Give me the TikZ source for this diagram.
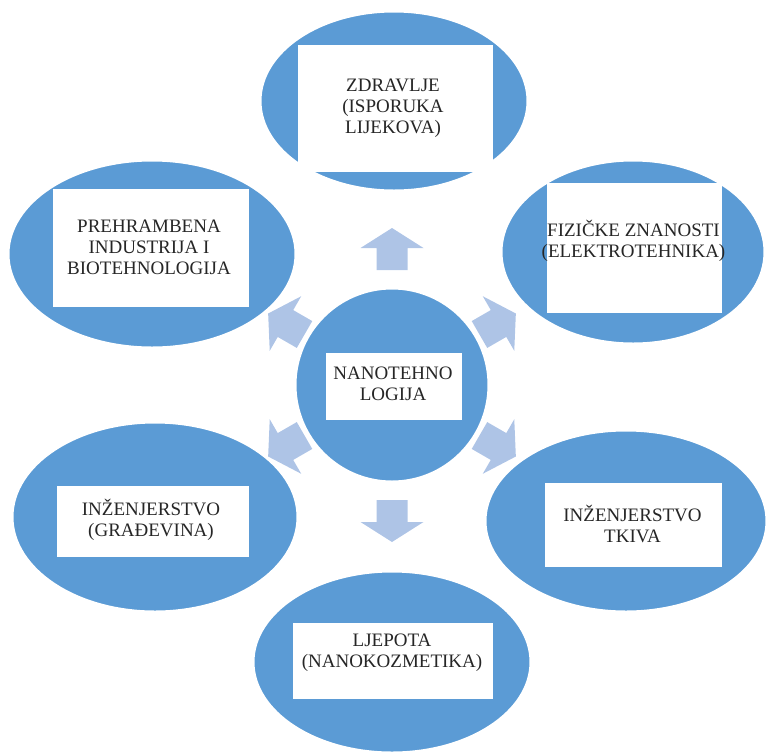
\documentclass[tikz,border=0pt]{standalone}
\usepackage{fontspec}
\setmainfont{Liberation Serif}
\usetikzlibrary{shapes.geometric}

\definecolor{ovalblue}{RGB}{91,155,213}
\definecolor{arrowblue}{RGB}{174,196,230}

\begin{document}
\begin{tikzpicture}[x=1pt, y=-1pt,
    oval/.style={ellipse, fill=ovalblue, draw=white, line width=3pt, inner sep=0pt},
    card/.style={rectangle, fill=white, inner sep=0pt},
    card text/.style={align=center, inner sep=0pt, text=black!85,
        font=\fontsize{19}{21}\selectfont}]

    \useasboundingbox (0,0) rectangle (766,753);

    % Arrows
    \foreach \a/\d in {90/136, 30/122, -30/122, -90/136, 210/122, 150/122}
    {
    	\fill[arrowblue, shift={(392,385)}, rotate=\a]
    		({\d-21},-15.5) -- ({\d+1},-15.5) -- ({\d+1},-31.5) -- ({\d+21},0)
    		-- ({\d+1},31.5) -- ({\d+1},15.5) -- ({\d-21},15.5) -- cycle;
    }

    % Ovals
    \node[oval, minimum width=268pt, minimum height=180pt] (Zdravlje) at (394,101) {};
    \node[oval, minimum width=264pt, minimum height=184pt] (Fizika) at (633,252) {};
    \node[oval, minimum width=282pt, minimum height=182pt] (Tkivo) at (626,521) {};
    \node[oval, minimum width=278pt, minimum height=182pt] (Ljepota) at (392,662) {};
    \node[oval, minimum width=286pt, minimum height=190pt] (Gradevina) at (155,517) {};
    \node[oval, minimum width=288pt, minimum height=188pt] (Prehrana) at (152,254) {};
    \node[oval, circle, minimum size=194pt] (Nano) at (392,385) {};

    % White cards
    \node[card, minimum width=195pt, minimum height=127pt] (Zdravlje-card) at (395.5,108.5) {};
    \node[card, minimum width=175pt, minimum height=130pt] (Fizika-card) at (634.5,248) {};
    \node[card, minimum width=177pt, minimum height=84pt] (Tkivo-card) at (633.5,525) {};
    \node[card, minimum width=200pt, minimum height=76pt] (Ljepota-card) at (393,661) {};
    \node[card, minimum width=192pt, minimum height=71pt] (Gradevina-card) at (153,521.5) {};
    \node[card, minimum width=196pt, minimum height=118pt] (Prehrana-card) at (151,248) {};
    \node[card, minimum width=136pt, minimum height=67pt] (Nano-card) at (394,386.5) {};

    % Texts
    \node[card text] (Zdravlje-text) at (393,108) {ZDRAVLJE\\(ISPORUKA\\LIJEKOVA)};
    \node[card text] (Fizika-text) at (633.5,241) {FIZIČKE ZNANOSTI\\(ELEKTROTEHNIKA)};
    \node[card text] (Tkivo-text) at (632.5,524) {INŽENJERSTVO\\TKIVA};
    \node[card text] (Ljepota-text) at (392,653) {LJEPOTA\\(NANOKOZMETIKA)};
    \node[card text] (Gradevina-text) at (151,520) {INŽENJERSTVO\\(GRAĐEVINA)};
    \node[card text] (Prehrana-text) at (149,247) {PREHRAMBENA\\INDUSTRIJA I\\BIOTEHNOLOGIJA};
    \node[card text] (Nano-text) at (393,384) {NANOTEHNO\\LOGIJA};

\end{tikzpicture}
\end{document}
